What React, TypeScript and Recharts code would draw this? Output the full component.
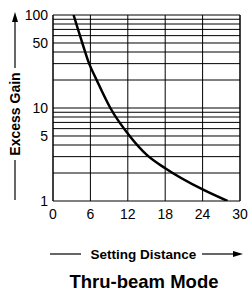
import React from "react";
import { LineChart, Line, XAxis, YAxis, ReferenceLine } from "recharts";

// curve (distance, excess gain)
const distance = [3.3, 4.7, 5.8, 7.0, 9.2, 12.3, 15, 18, 24, 28];
const gain = [100, 50, 30, 20, 10, 5, 3.15, 2.25, 1.33, 1];

const xTicks = [0, 6, 12, 18, 24, 30];
const yTicks = [1, 5, 10, 50, 100];
const yGrid = [1, 2, 3, 4, 5, 6, 7, 8, 9, 10, 20, 30, 40, 50, 60, 70, 80, 90, 100];

const data = distance.map((d, i) => ({ d, g: gain[i] }));

const font = "'Liberation Sans', Arial, sans-serif";

const App: React.FC = () => {
  return (
    <div style={{ position: "fixed", left: 0, top: 0, width: 249, height: 291, background: "#fff", fontFamily: font }}>
      <LineChart
        width={249}
        height={291}
        data={data}
        margin={{ top: 15, right: 9, bottom: 60, left: 0 }}
      >
        <XAxis
          dataKey="d"
          type="number"
          domain={[0, 30]}
          ticks={xTicks}
          axisLine={false}
          tickLine={false}
          tickMargin={2}
          height={30}
          tick={{ fill: "#000", fontSize: 14, fontFamily: font }}
        />
        <YAxis
          type="number"
          scale="log"
          domain={[1, 100]}
          ticks={yTicks}
          allowDataOverflow
          axisLine={false}
          tickLine={false}
          tickSize={3}
          tickMargin={2}
          width={53}
          tick={{ fill: "#000", fontSize: 14, fontFamily: font }}
        />
        {yGrid.map((v) => (
          <ReferenceLine key={"h" + v} y={v} stroke="#000" strokeWidth={1} />
        ))}
        {xTicks.map((v) => (
          <ReferenceLine key={"v" + v} x={v} stroke="#000" strokeWidth={v === 0 || v === 30 ? 1.5 : 1} />
        ))}
        <Line
          dataKey="g"
          type="monotone"
          stroke="#000"
          strokeWidth={2.5}
          dot={false}
          isAnimationActive={false}
        />
      </LineChart>
      <svg width={249} height={291} style={{ position: "absolute", left: 0, top: 0, pointerEvents: "none" }}>
        {/* y label */}
        <line x1={15} y1={20} x2={15} y2={68} stroke="#000" strokeWidth={1.2} />
        <polygon points="15,12 12,22 18,22" fill="#000" />
        <text
          x={15}
          y={114}
          transform="rotate(-90 15 114)"
          textAnchor="middle"
          dominantBaseline="central"
          fontFamily={font}
          fontWeight="bold"
          fontSize={14}
        >
          Excess Gain
        </text>
        <line x1={15} y1={160} x2={15} y2={200} stroke="#000" strokeWidth={1.2} />
        {/* x label */}
        <line x1={50} y1={254} x2={81} y2={254} stroke="#000" strokeWidth={1.2} />
        <text x={143.5} y={254} textAnchor="middle" dominantBaseline="central" fontFamily={font} fontWeight="bold" fontSize={13.5}>
          Setting Distance
        </text>
        <line x1={202} y1={254} x2={234} y2={254} stroke="#000" strokeWidth={1.2} />
        <polygon points="243,254 233,251 233,257" fill="#000" />
        <text x={144} y={281} textAnchor="middle" dominantBaseline="central" fontFamily={font} fontWeight="bold" fontSize={18.5}>
          Thru-beam Mode
        </text>
      </svg>
    </div>
  );
};

export default App;
